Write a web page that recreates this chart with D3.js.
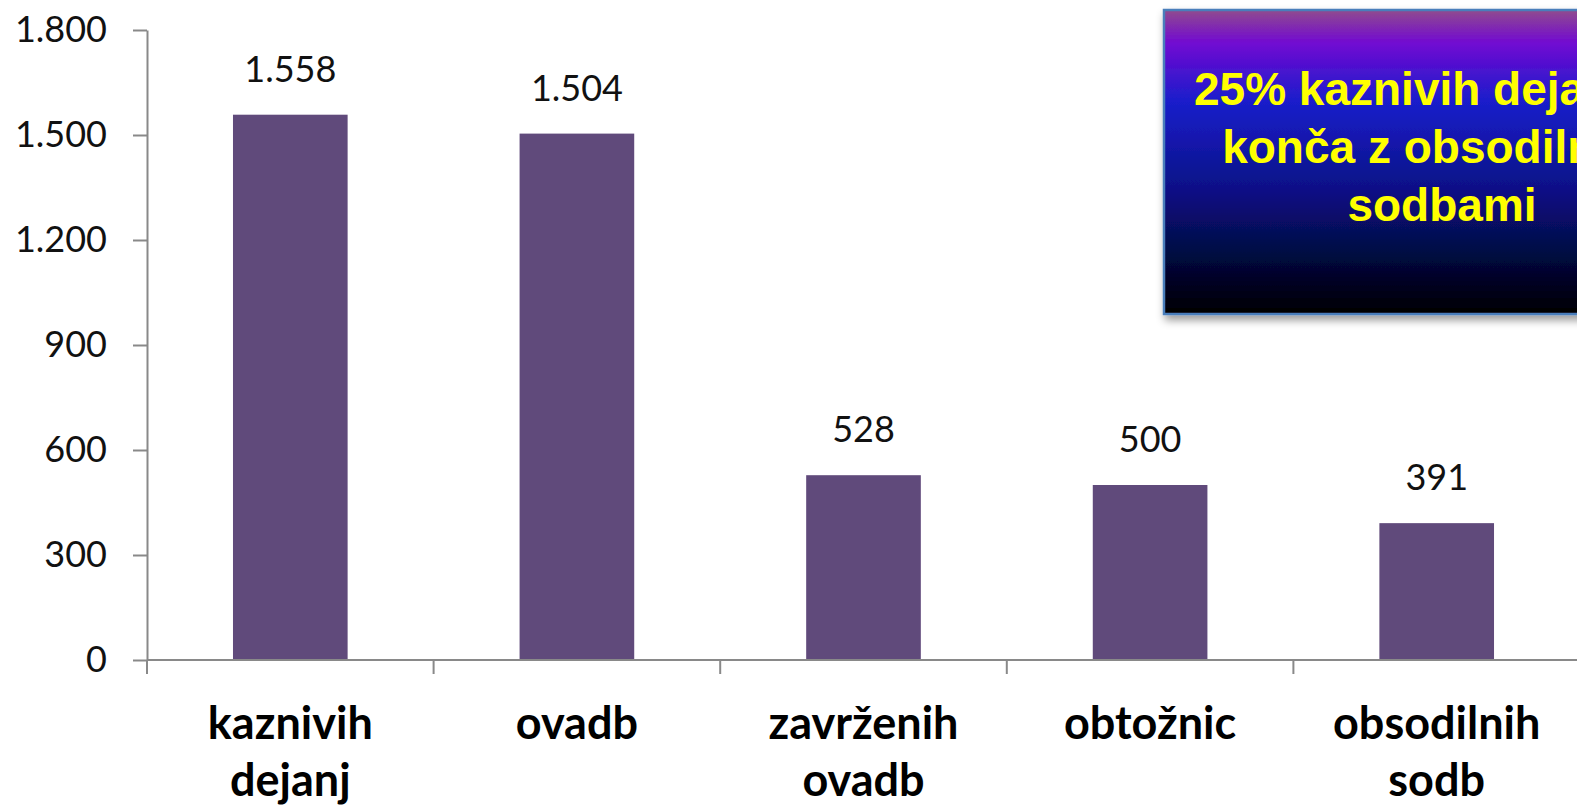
<!DOCTYPE html>
<html>
<head>
<meta charset="utf-8">
<script src="https://cdn.jsdelivr.net/npm/d3@7"></script>
<style>
  body { margin: 0; background: #fff; overflow: hidden; }
  svg { display: block; }
  .axis path, .axis line { stroke: #898989; stroke-width: 2; }
  .axis text { font-family: Lato, "DejaVu Sans", sans-serif; font-size: 36px; fill: #111; }
</style>
</head>
<body>
<svg width="1577" height="808"></svg>
<script>
// data
const categories = ["kaznivih\ndejanj", "ovadb", "zavrženih\novadb", "obtožnic", "obsodilnih\nsodb"];
const values = [1558, 1504, 528, 500, 391];
const yTicks = [0, 300, 600, 900, 1200, 1500, 1800];
const noteLines = ["25% kaznivih dejanj se", "konča z obsodilnimi", "sodbami"];

const svg = d3.select("svg");
const padding = {left: 147, top: 30, right: -3, bottom: 148};
const w = 1577, h = 808;

// slovenian number format, 1.558
const fmt = d3.formatLocale({decimal: ",", thousands: ".", grouping: [3], currency: ["", ""]}).format(",d");

const xScale = d3.scaleBand()
  .domain(d3.range(categories.length))
  .range([padding.left, w - padding.right])
  .paddingInner(0.6)
  .paddingOuter(0.3);

const yScale = d3.scaleLinear()
  .domain([0, 1800])
  .range([h - padding.bottom, padding.top]);

const y0 = yScale(0);

// bars
svg.append("g").selectAll("rect")
  .data(values)
  .enter()
  .append("rect")
  .attr("x", (d, i) => xScale(i))
  .attr("y", d => yScale(d))
  .attr("width", xScale.bandwidth())
  .attr("height", d => y0 - yScale(d))
  .attr("fill", "#604a7b");

// value labels
svg.append("g").selectAll("text")
  .data(values)
  .enter()
  .append("text")
  .attr("x", (d, i) => xScale(i) + xScale.bandwidth() / 2)
  .attr("y", d => yScale(d) - 33)
  .attr("text-anchor", "middle")
  .style("font-family", "Lato, 'DejaVu Sans', sans-serif")
  .style("font-size", "36px")
  .attr("fill", "#111")
  .text(d => fmt(d));

// y axis
const yAxis = d3.axisLeft(yScale)
  .tickValues(yTicks)
  .tickSize(14)
  .tickSizeOuter(0)
  .tickPadding(26)
  .tickFormat(fmt);

svg.append("g")
  .attr("class", "axis")
  .attr("transform", "translate(" + padding.left + ",0)")
  .call(yAxis);

// x axis line + boundary ticks (excel style, between categories)
const xa = svg.append("g").attr("class", "axis");
xa.append("line")
  .attr("x1", padding.left).attr("x2", w)
  .attr("y1", y0).attr("y2", y0);
xa.selectAll("line.tick")
  .data(d3.range(categories.length + 1))
  .enter()
  .append("line")
  .attr("class", "tick")
  .attr("x1", i => xScale.range()[0] + i * xScale.step())
  .attr("x2", i => xScale.range()[0] + i * xScale.step())
  .attr("y1", y0)
  .attr("y2", y0 + 14);

// category labels
const catG = svg.append("g")
  .style("font-family", "Lato, 'DejaVu Sans', sans-serif")
  .style("font-weight", "bold")
  .style("font-size", "45px")
  .attr("fill", "#000");

categories.forEach((c, i) => {
  const t = catG.append("text")
    .attr("text-anchor", "middle")
    .attr("x", xScale(i) + xScale.bandwidth() / 2)
    .attr("y", 739);
  c.split("\n").forEach((line, j) => {
    t.append("tspan")
      .attr("x", xScale(i) + xScale.bandwidth() / 2)
      .attr("y", 739 + j * 57)
      .text(line);
  });
});

// note box
const defs = svg.append("defs");
const grad = defs.append("linearGradient")
  .attr("id", "boxGrad")
  .attr("x1", 0).attr("y1", 0).attr("x2", 0).attr("y2", 1);
[[0, "#904c8e"], [0.11, "#7108d2"], [0.3, "#1a1ecb"], [0.6, "#0a1084"], [0.85, "#020632"], [1, "#000000"]]
  .forEach(s => grad.append("stop").attr("offset", s[0]).attr("stop-color", s[1]));

const shadow = defs.append("filter").attr("id", "shadow")
  .attr("x", "-10%").attr("y", "-10%").attr("width", "130%").attr("height", "130%");
shadow.append("feDropShadow")
  .attr("dx", 2).attr("dy", 5).attr("stdDeviation", 4)
  .attr("flood-color", "#000").attr("flood-opacity", 0.4);

const boxX = 1164, boxY = 10, boxW = 556, boxH = 304;
const note = svg.append("g");
note.append("rect")
  .attr("x", boxX).attr("y", boxY)
  .attr("width", boxW).attr("height", boxH)
  .attr("fill", "url(#boxGrad)")
  .attr("stroke", "#4a7ebb")
  .attr("stroke-width", 2.5)
  .attr("filter", "url(#shadow)");

note.selectAll("text")
  .data(noteLines)
  .enter()
  .append("text")
  .attr("x", boxX + boxW / 2)
  .attr("y", (d, i) => 105 + i * 58)
  .attr("text-anchor", "middle")
  .style("font-family", "'Liberation Sans', Arial, sans-serif")
  .style("font-weight", "bold")
  .style("font-size", "46px")
  .attr("fill", "#ffff00")
  .text(d => d);
</script>
</body>
</html>
